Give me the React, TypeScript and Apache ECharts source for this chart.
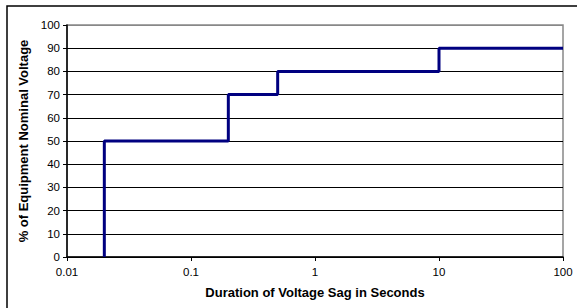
import React, { useEffect, useRef } from "react";
import * as echarts from "echarts";

const durations = [0.02, 0.02, 0.2, 0.2, 0.5, 0.5, 10, 10, 100];
const voltages = [0, 50, 50, 70, 70, 80, 80, 90, 90];
const xTicks = [0.01, 0.1, 1, 10, 100];

export default function App() {
  const ref = useRef<HTMLDivElement>(null);
  useEffect(() => {
    if (!ref.current) return;
    const chart = echarts.init(ref.current, undefined, { renderer: "svg" });
    const font = "Liberation Sans, Arial, sans-serif";
    const splitColors = Array.from({ length: 11 }, (_, i) => (i === 10 ? "#888" : "#000"));
    chart.setOption({
      animation: false,
      backgroundColor: "#fff",
      graphic: [
        {
          type: "rect",
          shape: { x: 7, y: 6, width: 600, height: 400 },
          style: { fill: "none", stroke: "#000", lineWidth: 1.5 },
          silent: true,
          z: -1,
        },
      ],
      grid: {
        left: 67,
        top: 25,
        right: 14,
        bottom: 51,
        show: true,
        borderColor: "#888",
        borderWidth: 1.5,
        backgroundColor: "transparent",
      },
      xAxis: {
        type: "log",
        logBase: 10,
        min: 0.01,
        max: 100,
        name: "Duration of Voltage Sag in Seconds",
        nameLocation: "middle",
        nameGap: 29,
        nameTextStyle: { fontFamily: font, fontWeight: "bold", fontSize: 13, color: "#000" },
        axisLine: { lineStyle: { color: "#000", width: 1.5 } },
        axisTick: { show: true, length: 4, lineStyle: { color: "#000" } },
        minorTick: { show: false },
        splitLine: { show: false },
        axisLabel: {
          fontFamily: font,
          fontSize: 11.5,
          color: "#000",
          margin: 9,
          formatter: (v: number) => {
            const m = xTicks.find((t) => Math.abs(Math.log10(t) - Math.log10(v)) < 1e-6);
            return m !== undefined ? String(m) : "";
          },
        },
      },
      yAxis: {
        type: "value",
        min: 0,
        max: 100,
        interval: 10,
        name: "% of Equipment Nominal Voltage",
        nameLocation: "middle",
        nameGap: 36,
        nameTextStyle: { fontFamily: font, fontWeight: "bold", fontSize: 13, color: "#000" },
        axisLine: { show: true, lineStyle: { color: "#000", width: 1.5 } },
        axisTick: { show: true, length: 4, lineStyle: { color: "#000" } },
        splitLine: { show: true, lineStyle: { color: splitColors, width: 1 } },
        axisLabel: { fontFamily: font, fontSize: 11.5, color: "#000", margin: 7 },
      },
      series: [
        {
          type: "line",
          data: durations.map((d, i) => [d, voltages[i]]),
          showSymbol: false,
          symbol: "none",
          lineStyle: { color: "#000080", width: 3 },
          z: 5,
        },
      ],
    });
    return () => chart.dispose();
  }, []);
  return (
    <div
      ref={ref}
      style={{ position: "fixed", left: 0, top: 0, width: 577, height: 308, background: "#fff" }}
    />
  );
}
